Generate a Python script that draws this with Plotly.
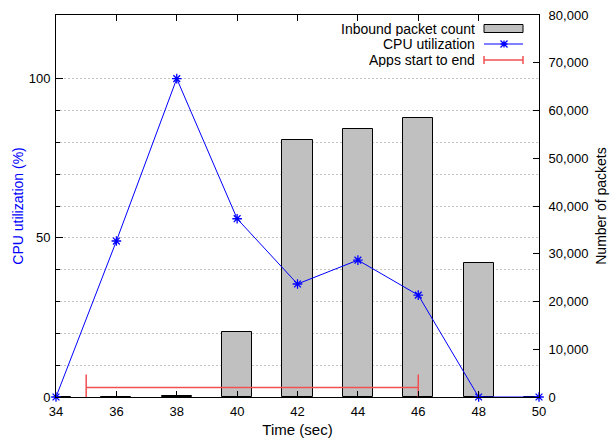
import plotly.graph_objects as go

# ---- data ----
time_sec = [34, 36, 38, 40, 42, 44, 46, 48, 50]
cpu_util = [0, 49, 100, 56, 35.5, 43, 32, 0, 0]
packets = [100, 0, 150, 13600, 53800, 56200, 58400, 28000, 0]
apps_start = 35
apps_end = 46
apps_level = 3

x_ticks = [34, 36, 38, 40, 42, 44, 46, 48, 50]
cpu_ticks = [0, 50, 100]
cpu_minor = [10, 20, 30, 40, 60, 70, 80, 90]
pkt_ticks = [0, 10000, 20000, 30000, 40000, 50000, 60000, 70000, 80000]

FONT = "Liberation Sans, Arial, sans-serif"
BLUE = "#0000ff"
RED = "rgb(240,80,80)"
GRAY = "#c0c0c0"

fig = go.Figure()

fig.add_trace(go.Bar(
    x=time_sec, y=packets, width=1.0, yaxis="y",
    marker=dict(color=GRAY, line=dict(color="black", width=1)),
    name="Inbound packet count", showlegend=False,
))

fig.add_trace(go.Scatter(
    x=time_sec, y=cpu_util, yaxis="y2", mode="lines+markers",
    line=dict(color=BLUE, width=1),
    marker=dict(symbol="asterisk-open", size=8, color=BLUE, line=dict(color=BLUE, width=1.3)),
    cliponaxis=False, name="CPU utilization", showlegend=False,
))

mid = (apps_start + apps_end) / 2
half = (apps_end - apps_start) / 2
fig.add_trace(go.Scatter(
    x=[mid], y=[apps_level], yaxis="y2", mode="markers",
    marker=dict(size=1, color=RED, opacity=0),
    error_x=dict(type="data", symmetric=True, array=[half], color=RED,
                 thickness=1.5, width=13),
    cliponaxis=False, name="Apps start to end", showlegend=False,
))

# ---- layout ----
L, R, T, B = 56, 73, 15, 44
W, H = 612, 441
pw, ph = W - L - R, H - T - B


def px(x):
    return (x - L) / pw


def py(y):
    return (H - B - y) / ph


fig.update_layout(
    width=W, height=H,
    margin=dict(l=L, r=R, t=T, b=B, pad=0, autoexpand=False),
    paper_bgcolor="white", plot_bgcolor="white",
    font=dict(family=FONT, size=13, color="black"),
    showlegend=False,
    bargap=0,
    xaxis=dict(
        range=[34, 50], tickvals=x_ticks, ticks="inside", ticklen=6,
        tickcolor="black", showline=True, linecolor="black", linewidth=1,
        mirror="ticks", showgrid=False, zeroline=False, automargin=False,
        ticklabelstandoff=2,
        title=dict(text="Time (sec)", font=dict(size=15), standoff=6),
    ),
    yaxis=dict(
        range=[0, 80000], side="right", tickvals=pkt_ticks, tickformat=",d",
        ticks="inside", ticklen=6, tickcolor="black", showline=True,
        linecolor="black", linewidth=1, showgrid=False, zeroline=False,
        ticklabelstandoff=6, automargin=False,
        title=dict(text="Number of packets", font=dict(size=14), standoff=8),
    ),
    yaxis2=dict(
        range=[0, 120], side="left", overlaying="y", tickvals=cpu_ticks,
        ticks="inside", ticklen=7, tickcolor="black", showline=True,
        linecolor="black", linewidth=1, zeroline=False, automargin=False,
        showgrid=True, gridcolor="#c4c4c4", griddash="2px,2px", gridwidth=1,
        ticklabelstandoff=2,
        minor=dict(tickvals=cpu_minor, ticks="inside", ticklen=4,
                   tickcolor="black", showgrid=True, gridcolor="#c4c4c4",
                   griddash="2px,2px", gridwidth=1),
        title=dict(text="CPU utilization (%)", font=dict(size=14, color=BLUE),
                   standoff=1),
    ),
)

# ---- manual legend (gnuplot style: text right-aligned, sample at right) ----
txt_right = 476
s0, s1 = 484, 523
rows = [29, 44, 60]
labels = ["Inbound packet count", "CPU utilization", "Apps start to end"]
for yy, lab in zip(rows, labels):
    fig.add_annotation(x=px(txt_right), y=py(yy), xref="paper", yref="paper",
                       text=lab, showarrow=False, xanchor="right", yanchor="middle",
                       height=14, borderpad=0,
                       font=dict(size=14, family=FONT, color="black"))

# box sample
fig.add_shape(type="rect", xref="paper", yref="paper",
              x0=px(s0), x1=px(s1), y0=py(32.5), y1=py(24.5),
              fillcolor=GRAY, line=dict(color="black", width=1))
# cpu sample
fig.add_shape(type="line", xref="paper", yref="paper",
              x0=px(s0), x1=px(s1), y0=py(rows[1]), y1=py(rows[1]),
              line=dict(color=BLUE, width=1))
cx, cy, r = 504, rows[1], 3.5
star = (f"M{px(cx - r)},{py(cy)} L{px(cx + r)},{py(cy)} "
        f"M{px(cx)},{py(cy - r)} L{px(cx)},{py(cy + r)} "
        f"M{px(cx - r)},{py(cy - r)} L{px(cx + r)},{py(cy + r)} "
        f"M{px(cx - r)},{py(cy + r)} L{px(cx + r)},{py(cy - r)}")
fig.add_shape(type="path", xref="paper", yref="paper", path=star,
              line=dict(color=BLUE, width=1.3))
# apps sample
fig.add_shape(type="line", xref="paper", yref="paper",
              x0=px(s0), x1=px(s1), y0=py(rows[2]), y1=py(rows[2]),
              line=dict(color=RED, width=1.5))
for sx in (s0, s1):
    fig.add_shape(type="line", xref="paper", yref="paper",
                  x0=px(sx), x1=px(sx), y0=py(rows[2] - 4), y1=py(rows[2] + 4),
                  line=dict(color=RED, width=1.5))

fig.write_html("out.html")
